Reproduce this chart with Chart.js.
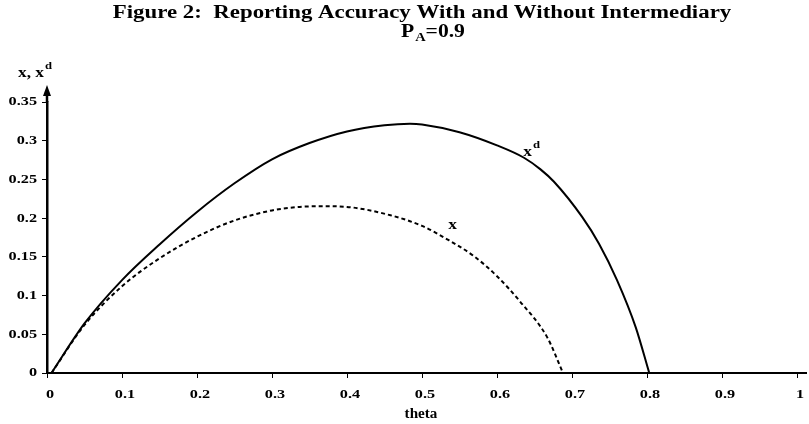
<!DOCTYPE html>
<html>
<head>
<meta charset="utf-8">
<script src="https://cdn.jsdelivr.net/npm/chart.js@4.4.1/dist/chart.umd.min.js"></script>
<style>
    html, body { margin: 0; padding: 0; background: #fff; }
    #wrap { width: 809px; height: 424px; }
</style>
</head>
<body>
<div id="wrap"><canvas id="chart"></canvas></div>
<script>
// values
const thetaXd = [0.006, 0.05, 0.1, 0.15, 0.2, 0.25, 0.3, 0.35, 0.4, 0.45, 0.484, 0.5, 0.55, 0.6, 0.636, 0.658, 0.676, 0.7135, 0.736, 0.76, 0.785, 0.803];
const xdValues = [0, 0.064, 0.12, 0.166, 0.208, 0.245, 0.276, 0.297, 0.312, 0.32, 0.322, 0.321, 0.311, 0.294, 0.278, 0.263, 0.247, 0.2016, 0.167, 0.12, 0.059, 0];
const thetaX = [0.006, 0.05, 0.1, 0.15, 0.2, 0.25, 0.3, 0.337, 0.3685, 0.4, 0.458, 0.5, 0.533, 0.569, 0.6, 0.631, 0.667, 0.688];
const xValues = [0, 0.062, 0.112, 0.148, 0.176, 0.197, 0.21, 0.2145, 0.2154, 0.2145, 0.2037, 0.19, 0.173, 0.151, 0.125, 0.092, 0.046, 0];
// both series stay at zero after they hit the axis
const thetaXdZero = [0.803, 1.0];
const thetaXZero = [0.688, 1.0];
const zeroValues = [0, 0];
const xTicks = [0, 0.1, 0.2, 0.3, 0.4, 0.5, 0.6, 0.7, 0.8, 0.9, 1];
const yTicks = [0, 0.05, 0.1, 0.15, 0.2, 0.25, 0.3, 0.35];

const serif = '"Liberation Serif", "Times New Roman", serif';
const STRETCH = 1.25; // the reference text is wider than plain Times

function toPoints(xs, ys) {
    return xs.map((v, i) => ({ x: v, y: ys[i] }));
}

function fmt(v) {
    return String(+v.toFixed(2));
}

// text drawn a bit wider, like the reference
function wideText(ctx, text, x, y, align, sx) {
    const w = ctx.measureText(text).width * sx;
    let left = x;
    if (align === 'center') left = x - w / 2;
    if (align === 'right') left = x - w;
    ctx.save();
    ctx.translate(left, y);
    ctx.scale(sx, 1);
    ctx.textAlign = 'left';
    ctx.fillText(text, 0, 0);
    ctx.restore();
    return left + w;
}

// tick labels, title, y label, curve labels and the arrow on the y axis
const annotations = {
    id: 'annotations',
    afterDraw(chart) {
        const ctx = chart.ctx;
        const xs = chart.scales.x;
        const ys = chart.scales.y;
        ctx.save();
        ctx.fillStyle = '#000';

        // tick labels
        ctx.font = 'bold 13px ' + serif;
        ctx.textBaseline = 'alphabetic';
        xTicks.forEach(v => {
            wideText(ctx, fmt(v), xs.getPixelForValue(v) + 3, 398, 'center', STRETCH);
        });
        ctx.textBaseline = 'middle';
        yTicks.forEach(v => {
            wideText(ctx, fmt(v), 37, ys.getPixelForValue(v), 'right', STRETCH);
        });
        ctx.textBaseline = 'alphabetic';

        // axis title
        ctx.font = 'bold 14px ' + serif;
        wideText(ctx, 'theta', 421, 418, 'center', 1.08);

        // title
        ctx.font = 'bold 18px ' + serif;
        wideText(ctx, 'Figure 2:  Reporting Accuracy With and Without Intermediary', 422, 18, 'center', 1.27);
        let px = wideText(ctx, 'P', 401, 37, 'left', 1.2);
        ctx.font = 'bold 12px ' + serif;
        px = wideText(ctx, 'A', px + 1, 41, 'left', 1.2);
        ctx.font = 'bold 18px ' + serif;
        wideText(ctx, '=0.9', px, 37, 'left', 1.2);

        // y axis label
        ctx.font = 'bold 15px ' + serif;
        px = wideText(ctx, 'x, x', 18, 77, 'left', 1.15);
        ctx.font = 'bold 11px ' + serif;
        wideText(ctx, 'd', px + 1, 69, 'left', 1.15);

        // series labels
        ctx.font = 'bold 15px ' + serif;
        px = wideText(ctx, 'x', xs.getPixelForValue(0.635), ys.getPixelForValue(0.28), 'left', 1.15);
        ctx.font = 'bold 11px ' + serif;
        wideText(ctx, 'd', px + 1, ys.getPixelForValue(0.291), 'left', 1.15);
        ctx.font = 'bold 15px ' + serif;
        wideText(ctx, 'x', xs.getPixelForValue(0.535), ys.getPixelForValue(0.186), 'left', 1.15);

        // arrow on top of the y axis
        const ax = xs.left;
        const top = chart.chartArea.top;
        ctx.strokeStyle = '#000';
        ctx.lineWidth = 2.5;
        ctx.beginPath();
        ctx.moveTo(ax, top);
        ctx.lineTo(ax, top - 8);
        ctx.stroke();
        ctx.beginPath();
        ctx.moveTo(ax, top - 17);
        ctx.lineTo(ax - 4, top - 6);
        ctx.lineTo(ax + 4, top - 6);
        ctx.closePath();
        ctx.fill();

        // x axis runs a little past 1
        ctx.lineWidth = 2;
        ctx.beginPath();
        ctx.moveTo(xs.right, ys.bottom);
        ctx.lineTo(807, ys.bottom);
        ctx.stroke();
        ctx.restore();
    }
};

function solidLine(label, points) {
    return {
        label: label,
        data: points,
        showLine: true,
        borderColor: '#000',
        borderWidth: 2,
        pointRadius: 0,
        cubicInterpolationMode: 'monotone'
    };
}

function dashedLine(label, points) {
    return Object.assign(solidLine(label, points), { borderDash: [4, 3] });
}

let myChart;

document.addEventListener('DOMContentLoaded', () => {
    const ctx = document.getElementById('chart').getContext('2d');
    myChart = new Chart(ctx, {
        type: 'scatter',
        data: {
            datasets: [
                solidLine('xd', toPoints(thetaXd, xdValues)),
                solidLine('xd zero', toPoints(thetaXdZero, zeroValues)),
                dashedLine('x', toPoints(thetaX, xValues)),
                dashedLine('x zero', toPoints(thetaXZero, zeroValues))
            ]
        },
        options: {
            responsive: true,
            maintainAspectRatio: false,
            animation: false,
            layout: {
                padding: { top: 102, right: 12, bottom: 0, left: 0 }
            },
            plugins: {
                legend: { display: false },
                tooltip: { enabled: false }
            },
            scales: {
                x: {
                    type: 'linear',
                    min: 0,
                    max: 1,
                    afterBuildTicks(scale) {
                        scale.ticks = xTicks.map(v => ({ value: v }));
                    },
                    afterFit(scale) {
                        scale.height = 51;
                    },
                    ticks: { display: false },
                    grid: {
                        drawOnChartArea: false,
                        tickLength: 5,
                        color: '#000',
                        lineWidth: 1
                    },
                    border: { color: '#000', width: 2 }
                },
                y: {
                    min: 0,
                    max: 0.35,
                    afterBuildTicks(scale) {
                        scale.ticks = yTicks.map(v => ({ value: v }));
                    },
                    afterFit(scale) {
                        scale.width = 47;
                    },
                    ticks: { display: false },
                    grid: {
                        drawOnChartArea: false,
                        tickLength: 5,
                        color: '#000',
                        lineWidth: 1
                    },
                    border: { color: '#000', width: 2.5 }
                }
            }
        },
        plugins: [annotations]
    });
});
</script>
</body>
</html>
